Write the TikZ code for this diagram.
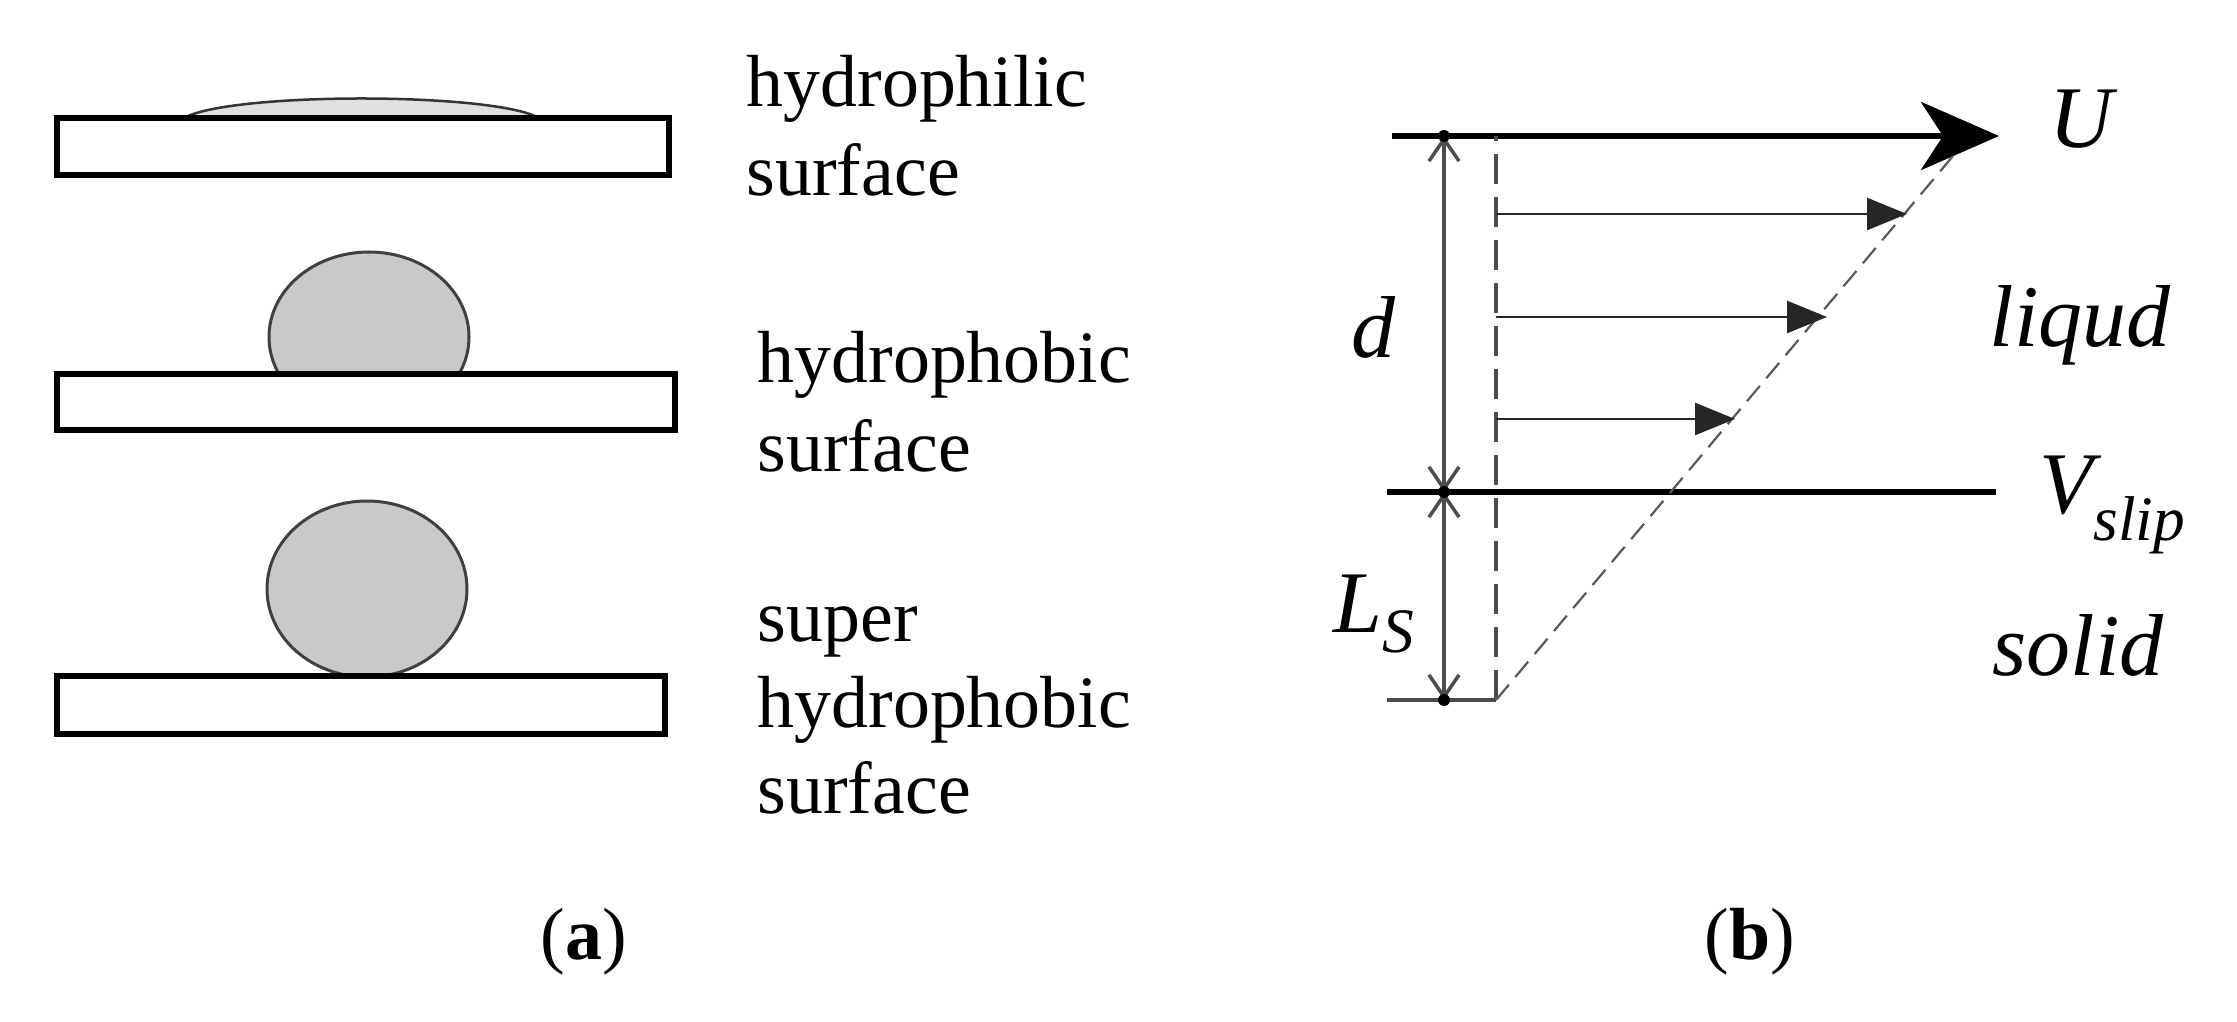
\documentclass[tikz,border=0pt]{standalone}
\usepackage{fontspec}
\setmainfont{Liberation Serif}
\usetikzlibrary{arrows.meta}
\begin{document}
\begin{tikzpicture}[x=0.01cm,y=-0.01cm,
  plate/.style={draw=black,line width=0.06cm,fill=white},
  drop/.style={draw=black!75,line width=0.03cm,fill=black!21},
  lab/.style={anchor=base west,inner sep=0,font=\fontsize{21}{25}\selectfont},
  mlab/.style={anchor=base west,inner sep=0,font=\fontsize{25}{30}\selectfont\itshape},
  thick line/.style={line width=0.06cm},
  vel/.style={line width=0.025cm,black!85,-{Triangle[length=0.4cm,width=0.32cm]}},
  dim/.style={line width=0.035cm,black!70,{Straight Barb[length=0.22cm,width=0.3cm]}-{Straight Barb[length=0.22cm,width=0.3cm]}},
  dot/.style={circle,fill=black,inner sep=0,minimum size=0.12cm}]
\useasboundingbox (0,0) rectangle (2237,1022);
% ---- (a) ----
\fill[black!12] (184,118) .. controls (230,92) and (493,92) .. (539,118) -- cycle;
\draw[black!80,line width=0.025cm] (184,118) .. controls (230,92) and (493,92) .. (539,118);
\draw[plate] (57,118) rectangle (669,175);
\begin{scope}
\clip (0,0) rectangle (900,374);
\draw[drop] (369,337) ellipse [x radius=100,y radius=85];
\end{scope}
\draw[plate] (57,374) rectangle (675,430);
\draw[drop] (367,589) ellipse [x radius=100,y radius=88];
\draw[plate] (57,676) rectangle (665,734);
\node[lab] (t1) at (746,107) {hydrophilic};
\node[lab] (t2) at (746,196) {surface};
\node[lab] (t3) at (757,383) {hydrophobic};
\node[lab] (t4) at (757,472) {surface};
\node[lab] (t5) at (757,641) {super};
\node[lab] (t6) at (757,727) {hydrophobic};
\node[lab] (t7) at (757,813) {surface};
\node[font=\fontsize{21}{25}\selectfont] (la) at (584,942) {(\textbf{a})};
\node[font=\fontsize{21}{25}\selectfont] (lb) at (1750,942) {(\textbf{b})};
% ---- (b) ----
\coordinate (TL) at (1392,136); \coordinate (TR) at (1999,136);
\coordinate (SL) at (1387,492); \coordinate (SR) at (1996,492);
\coordinate (BL) at (1387,700); \coordinate (BR) at (1496,700);
\coordinate (VT) at (1496,136);
\coordinate (DT) at (1444,136); \coordinate (DM) at (1444,492); \coordinate (DB) at (1444,700);
\draw[thick line,-{Stealth[length=0.78cm,width=0.68cm,inset=0.22cm]}] (TL) -- (TR);
\draw[thick line] (SL) -- (SR);
\draw[line width=0.04cm,black!70] (BL) -- (BR);
\draw[line width=0.035cm,black!70,dash pattern=on 0.3cm off 0.13cm] (BR) -- (VT);
\draw[line width=0.022cm,black!65,dash pattern=on 0.2cm off 0.1cm] (BR) -- (1958,150);
\draw[vel] (1496,214) -- (1907,214);
\draw[vel] (1496,317) -- (1827,317);
\draw[vel] (1496,419) -- (1735,419);
\draw[dim] (DT) -- (DM);
\draw[dim] (DM) -- (DB);
\node[dot] at (DT) {}; \node[dot] at (DM) {}; \node[dot] at (DB) {};
\node[mlab] (d) at (1351,358) {d};
\node[mlab] (Ls) at (1333,633) {L\raisebox{-0.22em}{\fontsize{18}{20}\selectfont S}};
\node[mlab] (U) at (2049,148) {U};
\node[mlab] (liq) at (1989,347) {liqud};
\node[mlab] (V) at (2039,514) {V\raisebox{-0.3em}{\fontsize{18}{20}\selectfont slip}};
\node[mlab] (sol) at (1992,675) {solid};
\end{tikzpicture}
\end{document}
